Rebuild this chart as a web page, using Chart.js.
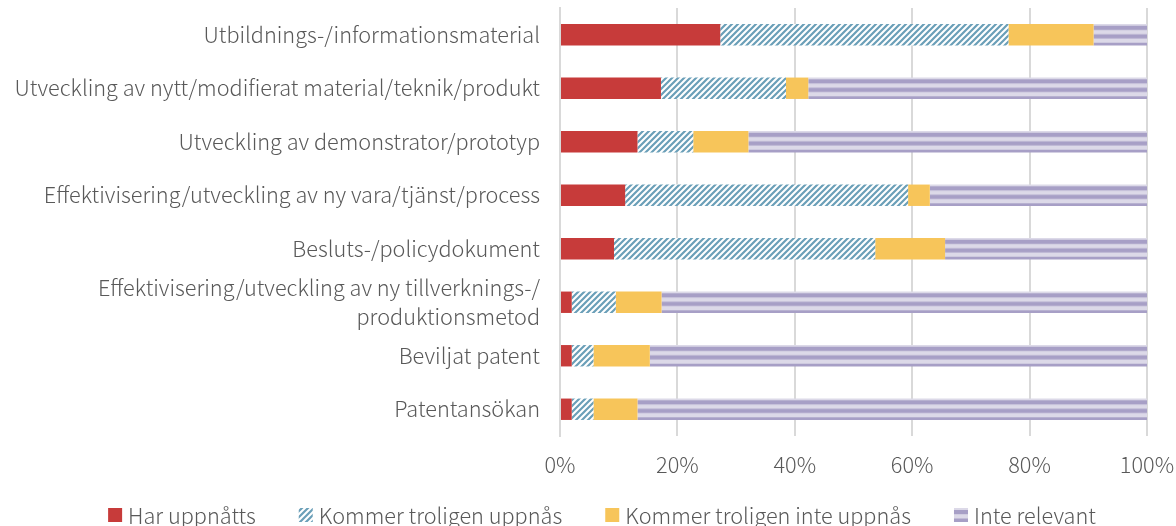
<!DOCTYPE html>
<html>
<head>
<meta charset="utf-8">
<script src="https://cdn.jsdelivr.net/npm/chart.js@4/dist/chart.umd.min.js"></script>
<style>
  html, body { margin: 0; padding: 0; background: #fff; }
  #wrap { width: 1176px; height: 526px; }
</style>
</head>
<body>
<div id="wrap"><canvas id="chart" width="1176" height="526"></canvas></div>
<script>
// --- Data ---
const categories = [
    'Utbildnings-/informationsmaterial',
    'Utveckling av nytt/modifierat material/teknik/produkt',
    'Utveckling av demonstrator/prototyp',
    'Effektivisering/utveckling av ny vara/tjänst/process',
    'Besluts-/policydokument',
    ['Effektivisering/utveckling av ny tillverknings-/', 'produktionsmetod'],
    'Beviljat patent',
    'Patentansökan'
];
const seriesNames = ['Har uppnåtts', 'Kommer troligen uppnås', 'Kommer troligen inte uppnås', 'Inte relevant'];
const harUppnatts      = [27.3, 17.2, 13.2, 11.1,  9.2,  2.0,  2.0,  2.0];
const kommerUppnas     = [49.1, 21.3,  9.5, 48.2, 44.5,  7.5,  3.7,  3.7];
const kommerInteUppnas = [14.5,  3.8,  9.4,  3.7, 11.9,  7.8,  9.6,  7.5];
const inteRelevant     = [ 9.1, 57.7, 67.9, 37.0, 34.4, 82.7, 84.7, 86.8];
const xTicks = [0, 20, 40, 60, 80, 100];

const FONT = '"Noto Sans CJK JP", "Noto Sans", sans-serif';
const FONT_SIZE = 21.7;
const FONT_WEIGHT = 300;
const TEXT = '#595959';
const GRID = '#d9d9d9';
const BAR_PCT = 0.4;

// --- Patterns ---
function hatchPattern() {
    const c = document.createElement('canvas');
    c.width = 6; c.height = 6;
    const g = c.getContext('2d');
    g.fillStyle = '#ffffff';
    g.fillRect(0, 0, 6, 6);
    g.strokeStyle = '#6a9fb8';
    g.lineWidth = 2.2;
    g.beginPath();
    g.moveTo(-1, 7); g.lineTo(7, -1);
    g.moveTo(-4, 4); g.lineTo(4, -4);
    g.moveTo(2, 10); g.lineTo(10, 2);
    g.stroke();
    return g.createPattern(c, 'repeat');
}

function stripePattern() {
    const c = document.createElement('canvas');
    c.width = 17; c.height = 17;
    const g = c.getContext('2d');
    g.fillStyle = '#dcd9e8';
    g.fillRect(0, 0, 17, 17);
    g.fillStyle = '#a79fc6';
    g.fillRect(0, 0, 17, 4.2);
    g.fillRect(0, 8.5, 17, 4.2);
    return g.createPattern(c, 'repeat');
}

const ctx = document.getElementById('chart').getContext('2d');
const stripe = stripePattern();
const fills = ['#c73b3a', hatchPattern(), '#f7c55a', stripe];

// stripes start just under the top edge of each bar
function stripeFill(c) {
    const ys = c.chart.scales.y;
    if (c.type !== 'data' || !ys || !ys.height) return stripe;
    const band = ys.height / categories.length;
    const top = ys.getPixelForValue(c.dataIndex) - band * BAR_PCT / 2;
    const p = stripePattern();
    p.setTransform(new DOMMatrix([1, 0, 0, 1, 0, top + 1.7]));
    return p;
}

// --- Legend drawn under the axis ---
const bottomLegend = {
    id: 'bottomLegend',
    afterDraw(chart) {
        const g = chart.ctx;
        const box = 14, gap = 6, spacing = 43, y = 515;
        g.save();
        g.font = FONT_WEIGHT + ' ' + FONT_SIZE + 'px ' + FONT;
        g.textBaseline = 'middle';
        const widths = seriesNames.map(n => g.measureText(n).width);
        const total = widths.reduce((a, w) => a + box + gap + w, 0) + spacing * (seriesNames.length - 1);
        let x = 602 - total / 2;
        seriesNames.forEach((n, i) => {
            g.fillStyle = fills[i];
            g.fillRect(x, y - box / 2, box, box);
            g.fillStyle = TEXT;
            g.fillText(n, x + box + gap, y + 1);
            x += box + gap + widths[i] + spacing;
        });
        g.restore();
    }
};

const datasets = [harUppnatts, kommerUppnas, kommerInteUppnas, inteRelevant].map((d, i) => ({
    label: seriesNames[i],
    data: d,
    backgroundColor: i === 3 ? stripeFill : fills[i],
    borderWidth: 0,
    barPercentage: BAR_PCT,
    categoryPercentage: 1
}));

new Chart(ctx, {
    type: 'bar',
    data: { labels: categories, datasets: datasets },
    options: {
        indexAxis: 'y',
        responsive: false,
        animation: false,
        layout: { padding: { top: 8, right: 29, bottom: 40, left: 0 } },
        plugins: {
            legend: { display: false },
            tooltip: { enabled: false }
        },
        scales: {
            x: {
                stacked: true,
                min: 0,
                max: 100,
                afterBuildTicks: (s) => { s.ticks = xTicks.map(v => ({ value: v })); },
                afterFit: (s) => { s.height = 50; s.paddingLeft = 0; s.paddingRight = 0; },
                grid: { color: GRID, lineWidth: 2, drawTicks: false },
                border: { display: false },
                ticks: {
                    padding: 16,
                    maxRotation: 0,
                    color: TEXT,
                    font: { family: FONT, size: FONT_SIZE, weight: FONT_WEIGHT },
                    callback: v => v + '%'
                }
            },
            y: {
                stacked: true,
                afterFit: (s) => { s.width = 560; s.paddingTop = 0; s.paddingBottom = 0; },
                grid: { display: false, drawTicks: false },
                border: { display: true, color: GRID, width: 2 },
                ticks: {
                    autoSkip: false,
                    padding: 20,
                    color: TEXT,
                    font: { family: FONT, size: FONT_SIZE, weight: FONT_WEIGHT, lineHeight: 1.3 }
                }
            }
        }
    },
    plugins: [bottomLegend]
});
</script>
</body>
</html>
